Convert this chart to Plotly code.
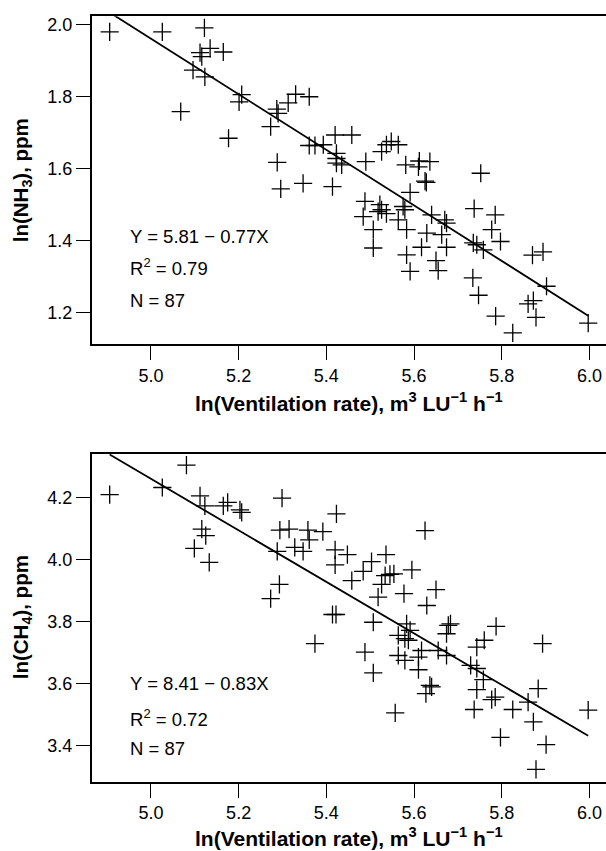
import plotly.graph_objects as go

# ---- data ----
x_nh3 = [4.906, 5.026, 5.122, 5.112, 5.116, 5.135, 5.165, 5.096, 5.123, 5.068,
         5.207, 5.201, 5.177, 5.273, 5.287, 5.290, 5.313, 5.330, 5.361, 5.288,
         5.296, 5.347, 5.414, 5.361, 5.374, 5.393, 5.420, 5.423, 5.423, 5.423,
         5.435, 5.458, 5.490, 5.526, 5.537, 5.548, 5.564, 5.581, 5.612, 5.610,
         5.636, 5.625, 5.628, 5.752, 5.591, 5.488, 5.522, 5.526, 5.518, 5.537,
         5.484, 5.575, 5.579, 5.564, 5.507, 5.583, 5.507, 5.640, 5.670, 5.674,
         5.629, 5.663, 5.617, 5.674, 5.583, 5.650, 5.591, 5.655, 5.737, 5.785,
         5.777, 5.797, 5.735, 5.743, 5.758, 5.870, 5.894, 5.902, 5.734, 5.747,
         5.860, 5.872, 5.878, 5.786, 5.825, 5.997]
y_nh3 = [1.979, 1.979, 1.990, 1.921, 1.910, 1.933, 1.923, 1.873, 1.854, 1.758,
         1.805, 1.785, 1.684, 1.716, 1.765, 1.753, 1.782, 1.806, 1.799, 1.617,
         1.544, 1.559, 1.550, 1.664, 1.664, 1.666, 1.693, 1.642, 1.628, 1.615,
         1.610, 1.693, 1.619, 1.647, 1.666, 1.675, 1.666, 1.610, 1.621, 1.605,
         1.619, 1.565, 1.562, 1.587, 1.534, 1.509, 1.500, 1.486, 1.481, 1.475,
         1.467, 1.495, 1.486, 1.458, 1.431, 1.431, 1.380, 1.472, 1.458, 1.449,
         1.421, 1.417, 1.382, 1.382, 1.361, 1.345, 1.315, 1.317, 1.489, 1.472,
         1.431, 1.398, 1.394, 1.389, 1.375, 1.360, 1.369, 1.274, 1.297, 1.249,
         1.225, 1.234, 1.188, 1.191, 1.145, 1.172]

x_ch4 = [4.906, 5.026, 5.081, 5.112, 5.123, 5.116, 5.125, 5.099, 5.133, 5.165,
         5.175, 5.203, 5.207, 5.299, 5.294, 5.315, 5.288, 5.293, 5.273, 5.328,
         5.347, 5.358, 5.361, 5.392, 5.423, 5.420, 5.420, 5.414, 5.422, 5.374,
         5.625, 5.448, 5.458, 5.484, 5.503, 5.536, 5.534, 5.545, 5.554, 5.595,
         5.526, 5.518, 5.577, 5.650, 5.629, 5.507, 5.488, 5.507, 5.557, 5.583,
         5.591, 5.587, 5.564, 5.579, 5.617, 5.610, 5.564, 5.579, 5.610, 5.636,
         5.640, 5.627, 5.678, 5.683, 5.674, 5.655, 5.674, 5.787, 5.743, 5.760,
         5.893, 5.729, 5.743, 5.758, 5.743, 5.777, 5.785, 5.737, 5.825, 5.860,
         5.883, 5.872, 5.797, 5.901, 5.878, 5.997]
y_ch4 = [4.209, 4.232, 4.304, 4.205, 4.173, 4.098, 4.077, 4.036, 3.991, 4.173,
         4.184, 4.160, 4.152, 4.198, 4.095, 4.098, 4.026, 3.920, 3.874, 4.039,
         4.026, 4.095, 4.063, 4.090, 4.147, 4.031, 3.983, 3.823, 3.823, 3.729,
         4.093, 4.016, 3.932, 3.962, 3.993, 4.016, 3.948, 3.952, 3.954, 3.967,
         3.920, 3.879, 3.890, 3.903, 3.852, 3.798, 3.702, 3.635, 3.506, 3.793,
         3.772, 3.740, 3.756, 3.745, 3.707, 3.686, 3.691, 3.675, 3.645, 3.595,
         3.590, 3.568, 3.788, 3.793, 3.761, 3.707, 3.691, 3.785, 3.718, 3.740,
         3.729, 3.659, 3.649, 3.613, 3.581, 3.549, 3.557, 3.517, 3.517, 3.541,
         3.584, 3.477, 3.427, 3.404, 3.324, 3.515]

fit_nh3 = [5.81, -0.77]   # intercept, slope
fit_ch4 = [8.41, -0.83]

x_ticks = [5.0, 5.2, 5.4, 5.6, 5.8, 6.0]
y_ticks_nh3 = [1.2, 1.4, 1.6, 1.8, 2.0]
y_ticks_ch4 = [3.4, 3.6, 3.8, 4.0, 4.2]

stats_nh3 = ["Y = 5.81 − 0.77X", "R<sup>2</sup> = 0.79", "N = 87"]
stats_ch4 = ["Y = 8.41 − 0.83X", "R<sup>2</sup> = 0.72", "N = 87"]

# ---- figure ----
W, H = 606, 851
FONT = "Liberation Sans, Arial, sans-serif"

def py(p):  # pixel-from-top to paper fraction
    return 1 - p / H

def px(p):
    return p / W

fig = go.Figure()

marker = dict(symbol="cross-thin-open", size=13, line=dict(color="black", width=1.3), color="black")

for xs, ys, fit, xa, ya in [(x_nh3, y_nh3, fit_nh3, "x", "y"),
                             (x_ch4, y_ch4, fit_ch4, "x2", "y2")]:
    fig.add_trace(go.Scatter(x=xs, y=ys, mode="markers", marker=marker,
                             xaxis=xa, yaxis=ya, showlegend=False, hoverinfo="skip"))
    x0, x1 = min(xs), max(xs)
    fig.add_trace(go.Scatter(x=[x0, x1], y=[fit[0] + fit[1] * x0, fit[0] + fit[1] * x1],
                             mode="lines", line=dict(color="black", width=1.8),
                             xaxis=xa, yaxis=ya, showlegend=False, hoverinfo="skip"))

xdom = [px(91.7), 1.0]
common_x = dict(range=[4.865, 6.0376], tickvals=x_ticks, ticktext=[f"{v:.1f}" for v in x_ticks],
                ticks="outside", ticklen=14, tickwidth=1.3, tickcolor="black",
                showline=True, linecolor="black", linewidth=1.6, mirror=True,
                showgrid=False, zeroline=False, domain=xdom,
                tickfont=dict(family=FONT, size=18, color="black"))
common_y = dict(ticks="outside", ticklen=14, tickwidth=1.3, tickcolor="black",
                showline=True, linecolor="black", linewidth=1.6, mirror=False,
                showgrid=False, zeroline=False,
                tickfont=dict(family=FONT, size=18, color="black"))

fig.update_layout(
    width=W, height=H,
    margin=dict(l=0, r=0, t=0, b=0),
    paper_bgcolor="white", plot_bgcolor="white",
    xaxis=dict(**common_x, anchor="y"),
    yaxis=dict(**common_y, range=[1.1126, 2.022], tickvals=y_ticks_nh3,
               ticktext=[f"{v:.1f}" for v in y_ticks_nh3],
               domain=[py(343.3), py(14.3)], anchor="x"),
    xaxis2=dict(**common_x, anchor="y2"),
    yaxis2=dict(**common_y, range=[3.284, 4.341], tickvals=y_ticks_ch4,
                ticktext=[f"{v:.1f}" for v in y_ticks_ch4],
                domain=[py(781.7), py(452.7)], anchor="x2"),
)

ann = []
xt = "<b>ln(Ventilation rate), m<sup>3</sup> LU<sup>−1</sup> h<sup>−1</sup></b>"
for yc in [401, 837]:
    ann.append(dict(text=xt, x=px(349), y=py(yc), xref="paper", yref="paper",
                    xanchor="center", yanchor="middle", showarrow=False,
                    font=dict(family=FONT, size=21, color="black")))
for txt, yc in [("<b>ln(NH<sub>3</sub>), ppm</b>", 179), ("<b>ln(CH<sub>4</sub>), ppm</b>", 617)]:
    ann.append(dict(text=txt, x=px(21.7), y=py(yc), xref="paper", yref="paper",
                    xanchor="center", yanchor="middle", textangle=-90, showarrow=False,
                    font=dict(family=FONT, size=20.5, color="black")))
for lines, ys in [(stats_nh3, [235, 266, 299.3]), (stats_ch4, [683.3, 717.3, 748.3])]:
    for t, yc in zip(lines, ys):
        ann.append(dict(text=t, x=px(128.3), y=py(yc), xref="paper", yref="paper",
                        xanchor="left", yanchor="middle", showarrow=False,
                        font=dict(family=FONT, size=18.5, color="black")))
fig.update_layout(annotations=ann)

fig.write_html("out.html", config={"displayModeBar": False},
               post_script="document.body.style.margin='0';document.body.style.overflow='hidden';")
